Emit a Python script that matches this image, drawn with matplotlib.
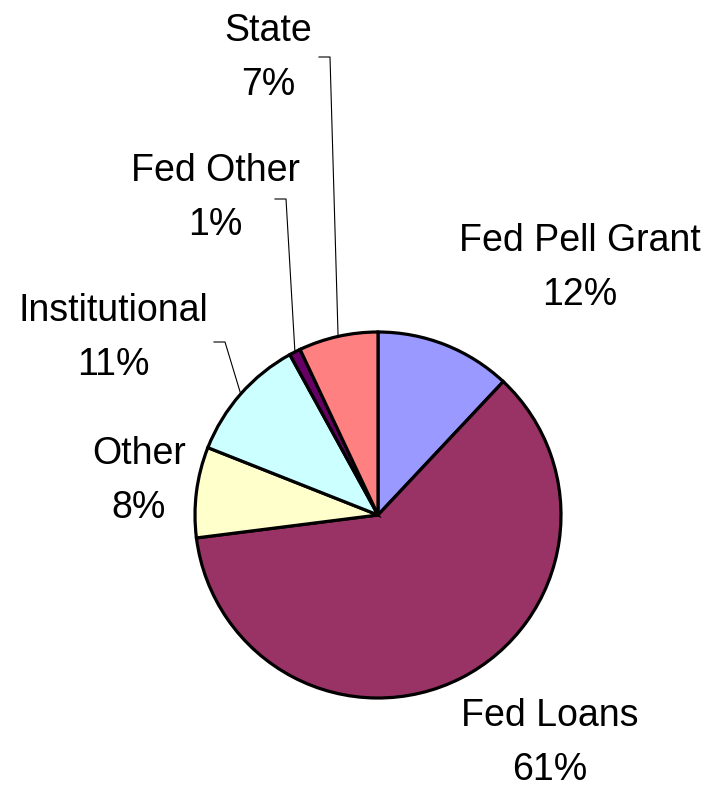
import numpy as np
import matplotlib.pyplot as plt

labels = ['Fed Pell Grant', 'Fed Loans', 'Other', 'Institutional', 'Fed Other', 'State']
values = [12, 61, 8, 11, 1, 7]
colors = ['#9999FF', '#993366', '#FFFFCC', '#CCFFFF', '#660066', '#FF8080']

# label centre positions (pixels, top-left origin) and leader tick start
label_pos = [(580, 268), (550, 743), (139, 481), (113, 338), (215, 198), (268, 58)]
leader = [None, None, None, (214, 342), (275, 199), (319, 57)]

W, H = 711, 792
cx, cy, r = 378, 515, 183

fig = plt.figure(figsize=(W / 100, H / 100), dpi=100)
ax = fig.add_axes([0, 0, 1, 1])
ax.set_xlim(0, W)
ax.set_ylim(0, H)
ax.axis('off')

ax.pie(values, colors=colors, startangle=90, counterclock=False,
       center=(cx, H - cy), radius=r,
       wedgeprops=dict(edgecolor='black', linewidth=2.3))
ax.set_xlim(0, W)
ax.set_ylim(0, H)
ax.set_aspect('equal')

total = sum(values)
cum = np.cumsum([0] + values)
font = dict(family=['Liberation Sans', 'DejaVu Sans'], fontsize=27)
for i, lab in enumerate(labels):
    x, y = label_pos[i]
    pct = '%d%%' % round(100 * values[i] / total)
    ax.text(x, H - (y - 27), lab, ha='center', va='center', **font)
    ax.text(x, H - (y + 27), pct, ha='center', va='center', **font)
    if leader[i] is not None:
        mid = (cum[i] + cum[i + 1]) / 2 / total * 2 * np.pi
        ex = cx + r * np.sin(mid)
        ey = cy - r * np.cos(mid)
        lx, ly = leader[i]
        ax.plot([lx, lx + 11, ex], [H - ly, H - ly, H - ey], color='black', lw=0.8)

fig.savefig('out.png', dpi=100)
